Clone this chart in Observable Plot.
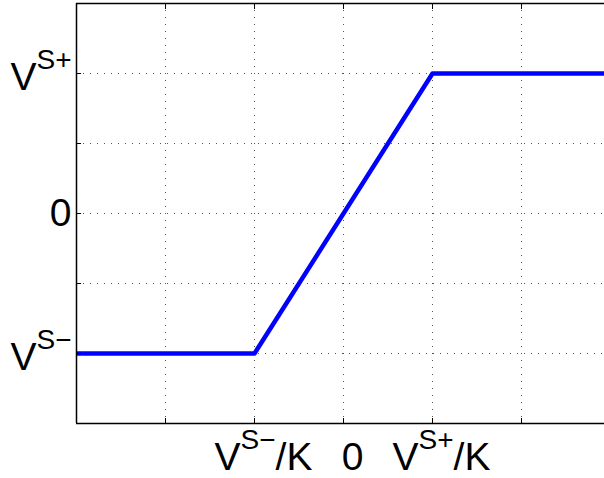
<!DOCTYPE html>
<html><head><meta charset="utf-8">
<script src="https://cdn.jsdelivr.net/npm/d3@7"></script>
<script src="https://cdn.jsdelivr.net/npm/@observablehq/plot@0.6"></script>
<style>html,body{margin:0;padding:0;background:#fff;}</style>
</head><body><div id="chart"></div>
<script>
// Piecewise-linear saturation curve
const xValues = [-3, -1, 1, 3];
const yValues = [-2, -2, 2, 2];
const gridXTicks = [-2, -1, 0, 1, 2];
const gridYTicks = [-2, -1, 0, 1, 2];
const xTickValues = [-1, 0, 1];
const xTickLabels = ["V^{S−}/K", "0", "V^{S+}/K"];
const yTickValues = [-2, 0, 2];
const yTickLabels = ["V^{S−}", "0", "V^{S+}"];

const data = xValues.map((x, i) => ({x, y: yValues[i]}));
const fontFamily = "'Liberation Sans', Arial, Helvetica, sans-serif";
const gridStyle = {stroke: "#555", strokeOpacity: 1, strokeWidth: 1, strokeDasharray: "1,6"};

const chart = Plot.plot({
  width: 604, height: 478,
  marginLeft: 76, marginRight: 0, marginTop: 3, marginBottom: 55,
  x: {domain: [-3, 3], range: [76, 610], label: null},
  y: {domain: [-3, 3], range: [423, 3], label: null},
  style: {fontFamily, fontSize: "39px", color: "#000", background: "#fff", overflow: "hidden"},
  marks: [
    Plot.gridX(gridXTicks, gridStyle),
    Plot.gridY(gridYTicks, gridStyle),
    Plot.line(data, {x: "x", y: "y", stroke: "#0000ff", strokeWidth: 4.5, clip: true}),
    Plot.ruleX([-3], {stroke: "#000", strokeWidth: 1.5}),
    Plot.ruleY([-3, 3], {stroke: "#000", strokeWidth: 1.5}),
    // inward tick marks
    Plot.axisX({ticks: gridXTicks, anchor: "bottom", tickSize: 5, dy: -5, tickFormat: () => "", label: null}),
    Plot.axisX({ticks: gridXTicks, anchor: "top", tickSize: 5, dy: 5, tickFormat: () => "", label: null}),
    Plot.axisY({ticks: gridYTicks, anchor: "left", tickSize: 5, dx: 5, tickFormat: () => "", label: null}),
    // tick labels
    Plot.axisX({ticks: xTickValues, anchor: "bottom", tickSize: 0, tickPadding: 19, dx: 9,
      tickFormat: d => xTickLabels[xTickValues.indexOf(d)], label: null, fontSize: 39}),
    Plot.axisY({ticks: yTickValues, anchor: "left", tickSize: 0, tickPadding: 5,
      tickFormat: d => yTickLabels[yTickValues.indexOf(d)], label: null, fontSize: 39})
  ]
});

// Turn "^{...}" into superscript tspans
d3.select(chart).selectAll("text").each(function () {
  const t = this.textContent;
  const m = t.match(/^(.*?)\^\{(.*?)\}(.*)$/);
  if (!m) return;
  const isY = this.parentNode && /y-axis/.test(this.parentNode.getAttribute("aria-label") || "");
  const sel = d3.select(this);
  sel.text(null);
  sel.append("tspan").attr("dy", isY ? 4 : 0).text(m[1]);
  sel.append("tspan").attr("font-size", "28px").attr("dy", -21).text(m[2]);
  if (m[3]) sel.append("tspan").attr("dy", 21).text(m[3]);
});

document.getElementById("chart").appendChild(chart);
</script>
</body></html>
